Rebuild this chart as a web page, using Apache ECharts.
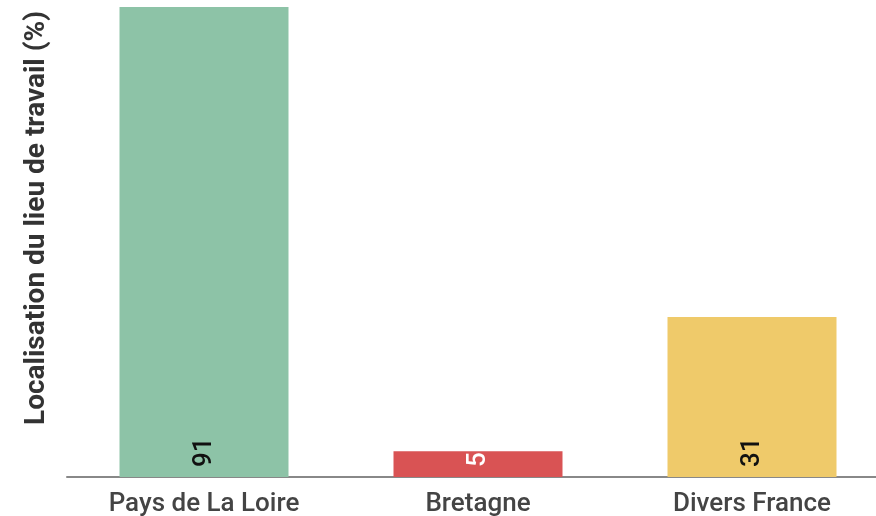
<!DOCTYPE html>
<html>
<head>
<meta charset="utf-8">
<title>Localisation du lieu de travail</title>
<script src="https://cdn.jsdelivr.net/npm/echarts@6/dist/echarts.min.js"></script>
<style>
  html, body { margin: 0; padding: 0; background: #fff; }
  #chart { width: 876px; height: 516px; }
</style>
</head>
<body>
<div id="chart"></div>
<script>
// données
const categories = ['Pays de La Loire', 'Bretagne', 'Divers France']
const values = [91, 5, 31]
const barColors = ['#8dc3a7', '#d95354', '#efca6a']
const labelColors = ['#111', '#fff', '#111']

const chart = echarts.init(document.getElementById('chart'))

const option = {
  animation: false,
  grid: {
    left: 67,
    width: 822,
    top: 7,
    bottom: 39,
    containLabel: false,
    outerBoundsMode: 'none'
  },
  xAxis: {
    type: 'category',
    data: categories,
    axisTick: { show: false },
    axisLine: {
      lineStyle: { color: '#888', width: 2 }
    },
    axisLabel: {
      margin: 14,
      color: '#444',
      fontFamily: 'Roboto',
      fontWeight: 500,
      fontSize: 26
    }
  },
  yAxis: {
    type: 'value',
    min: 0,
    max: 91,
    name: 'Localisation du lieu de travail (%)',
    nameLocation: 'middle',
    nameGap: 16,
    nameTextStyle: {
      color: '#333',
      fontFamily: 'Roboto',
      fontWeight: 'bold',
      fontSize: 28,
      padding: [0, 0, 0, 48]
    },
    axisLine: { show: false },
    axisTick: { show: false },
    axisLabel: { show: false },
    splitLine: { show: false }
  },
  series: [
    {
      type: 'bar',
      barWidth: 169,
      data: values.map((v, i) => ({
        value: v,
        itemStyle: { color: barColors[i] },
        label: { color: labelColors[i] }
      })),
      label: {
        show: true,
        position: 'insideBottom',
        rotate: 90,
        align: 'left',
        verticalAlign: 'middle',
        distance: 10,
        fontFamily: 'Roboto',
        fontWeight: 500,
        fontSize: 26
      }
    }
  ]
}

chart.setOption(option)

window.addEventListener('resize', () => {
  chart && chart.resize()
})
</script>
</body>
</html>
